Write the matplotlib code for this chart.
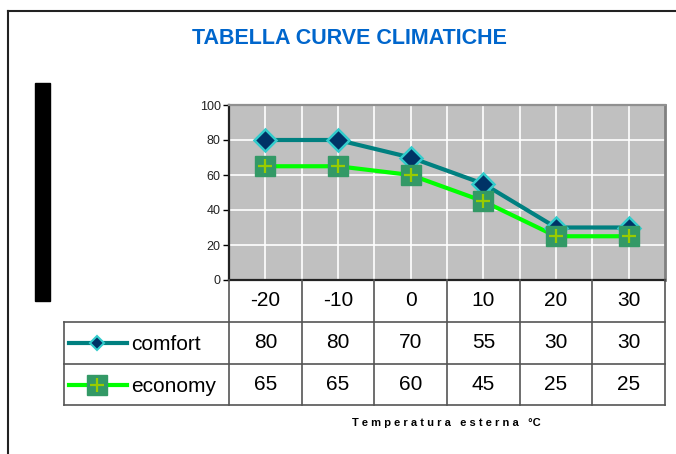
import matplotlib
matplotlib.use("Agg")
import matplotlib.pyplot as plt
import matplotlib.transforms as mtransforms
from matplotlib.lines import Line2D
from matplotlib.patches import Rectangle

plt.rcParams['font.family'] = ['Liberation Sans', 'DejaVu Sans']

# data
temps = ['-20', '-10', '0', '10', '20', '30']
comfort = [80, 80, 70, 55, 30, 30]
economy = [65, 65, 60, 45, 25, 25]
series_names = ['comfort', 'economy']
yticks = [0, 20, 40, 60, 80, 100]

W, H = 676, 454
fig = plt.figure(figsize=(W / 100, H / 100), dpi=100)

def fx(px):
    return px / W

def fy(py):
    return 1 - py / H

# plot area
left, right, top, bottom = 229, 665, 105, 280
ax = fig.add_axes([fx(left), fy(bottom), fx(right - left), (bottom - top) / H])
ax.set_facecolor('#C0C0C0')
x = list(range(len(temps)))
ax.set_xlim(-0.5, len(temps) - 0.5)
ax.set_ylim(0, 100)

for v in [i * 0.5 - 0.5 for i in range(1, 2 * len(temps))]:
    ax.axvline(v, color='white', lw=1.2, zorder=1)
for v in yticks[1:-1]:
    ax.axhline(v, color='white', lw=1.2, zorder=1)

ax.plot(x, comfort, color='#008080', lw=3, zorder=3)
ax.plot(x, comfort, ls='none', marker='D', ms=11, mfc='#003366',
        mec='#33CCCC', mew=1.8, zorder=4)
ax.plot(x, economy, color='#00FF00', lw=3, zorder=3)
ax.plot(x, economy, ls='none', marker='s', ms=14, mfc='#339966',
        mec='#339966', zorder=4)
ax.plot(x, economy, ls='none', marker='+', ms=10, mew=1.6,
        color='#99CC00', zorder=5)

ax.set_yticks(yticks)
ax.set_yticklabels([str(t) for t in yticks], fontsize=9, color='#222222')
ax.tick_params(axis='y', length=4, width=1, pad=2)
ax.set_xticks([])
ax.spines['left'].set_color('#222222')
ax.spines['left'].set_linewidth(1.6)
ax.spines['bottom'].set_color('#222222')
ax.spines['bottom'].set_linewidth(1.6)
ax.spines['top'].set_color('#909090')
ax.spines['top'].set_linewidth(1.6)
ax.spines['right'].set_color('#808080')
ax.spines['right'].set_linewidth(2)

# data table under the plot
tr = mtransforms.blended_transform_factory(ax.transData, fig.transFigure)
rows_y = [280, 322, 364, 405]
line_kw = dict(color='#555555', lw=1.2)
# vertical cell borders
for v in [i - 0.5 for i in range(len(temps) + 1)]:
    fig.add_artist(Line2D([v, v], [fy(280), fy(405)], transform=tr, **line_kw))
# horizontal borders
for ry in rows_y[1:]:
    fig.add_artist(Line2D([fx(64), fx(right)], [fy(ry), fy(ry)], **line_kw))
fig.add_artist(Line2D([fx(64), fx(64)], [fy(322), fy(405)], **line_kw))

cell_fs = 15
for i, t in enumerate(temps):
    fig.text(i, fy(301), t, transform=tr, ha='center', va='center', fontsize=cell_fs)
    fig.text(i, fy(343), str(comfort[i]), transform=tr, ha='center', va='center', fontsize=cell_fs)
    fig.text(i, fy(385), str(economy[i]), transform=tr, ha='center', va='center', fontsize=cell_fs)

# legend keys inside the table
fig.add_artist(Line2D([fx(69), fx(127)], [fy(343), fy(343)], color='#008080', lw=3))
fig.add_artist(Line2D([fx(97)], [fy(343)], marker='D', ms=7, mfc='#003366',
                      mec='#33CCCC', mew=1.5, ls='none'))
fig.add_artist(Line2D([fx(69), fx(127)], [fy(385), fy(385)], color='#00FF00', lw=3))
fig.add_artist(Line2D([fx(97)], [fy(385)], marker='s', ms=14, mfc='#339966',
                      mec='#339966', ls='none'))
fig.add_artist(Line2D([fx(97)], [fy(385)], marker='+', ms=10, mew=1.6,
                      color='#99CC00', ls='none'))
fig.text(fx(131), fy(345), series_names[0], ha='left', va='center', fontsize=cell_fs)
fig.text(fx(131), fy(387), series_names[1], ha='left', va='center', fontsize=cell_fs)

# title and axis label
fig.text(fx(349), fy(38), 'TABELLA CURVE CLIMATICHE', ha='center', va='center',
         fontsize=15.5, fontweight='bold', color='#0066CC')
fig.text(fx(446), fy(423), 'T e m p e r a t u r a   e s t e r n a   °C', ha='center',
         va='center', fontsize=8, fontweight='bold')

# black block where the y title would be
fig.add_artist(Rectangle((fx(35), fy(301)), fx(15), (301 - 83) / H,
                         transform=fig.transFigure, color='black'))

# outer chart frame (runs off right and bottom)
fig.add_artist(Line2D([fx(8), 1], [fy(11), fy(11)], color='#222222', lw=1.5))
fig.add_artist(Line2D([fx(8), fx(8)], [fy(11), 0], color='#222222', lw=1.5))

fig.savefig('out.png', dpi=100)
